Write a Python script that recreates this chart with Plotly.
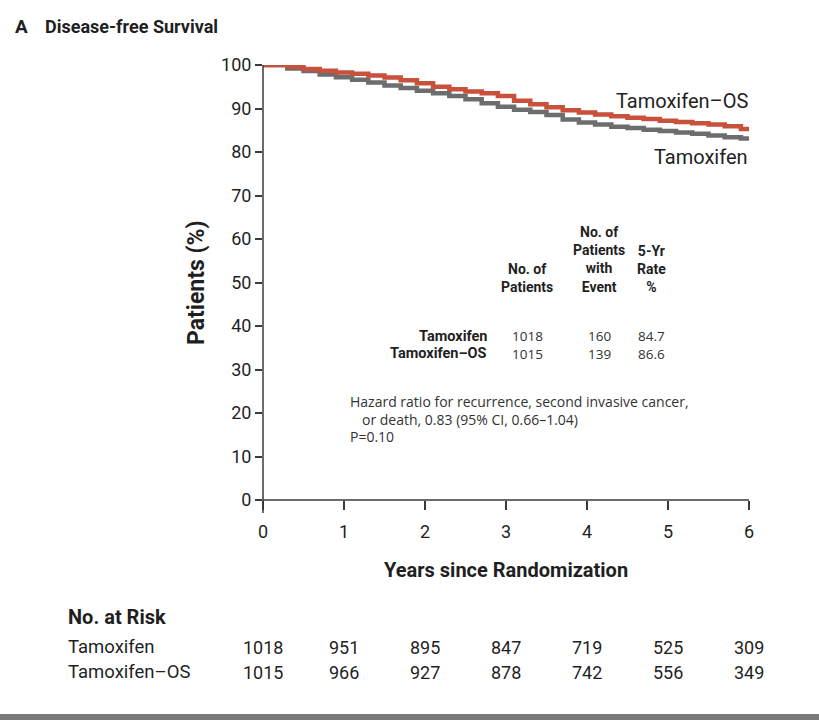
import plotly.graph_objects as go

# ---------------- data ----------------
years = [0, 0.3, 0.5, 0.7, 0.9, 1.1, 1.3, 1.5, 1.7, 1.9, 2.1, 2.3, 2.5, 2.7, 2.9,
         3.1, 3.3, 3.5, 3.7, 3.9, 4.1, 4.3, 4.5, 4.7, 4.9, 5.1, 5.3, 5.5, 5.7, 5.9, 6.0]
tam_os = [100, 99.6, 99.1, 98.7, 98.3, 98.0, 97.6, 97.1, 96.5, 95.8, 95.0, 94.4, 93.9, 93.5, 92.9,
          91.8, 91.0, 90.3, 89.6, 89.1, 88.6, 88.2, 87.9, 87.6, 87.2, 86.9, 86.6, 86.3, 85.9, 85.3, 85.0]
tam = [100, 99.2, 98.6, 97.8, 97.2, 96.6, 96.0, 95.3, 94.7, 94.1, 93.5, 92.9, 92.1, 91.2, 90.4,
       89.7, 89.2, 88.5, 87.5, 86.8, 86.3, 85.8, 85.5, 85.1, 84.8, 84.5, 84.2, 83.8, 83.4, 83.1, 83.0]

x_ticks = [0, 1, 2, 3, 4, 5, 6]
y_ticks = [0, 10, 20, 30, 40, 50, 60, 70, 80, 90, 100]

groups = ["Tamoxifen", "Tamoxifen\u2013OS"]
n_patients = [1018, 1015]
n_events = [160, 139]
rate_5yr = [84.7, 86.6]

risk_tam = [1018, 951, 895, 847, 719, 525, 309]
risk_os = [1015, 966, 927, 878, 742, 556, 349]

RED = "#c9503a"
GRAY = "#6b6d6f"
TXT = "#1f1f1f"
FONT = "Roboto, sans-serif"
FONT_T = "Open Sans, DejaVu Sans, sans-serif"

W, H = 819, 720
L, R, T, B = 263, 749, 65, 500


def px(x):
    return (x - L) / (R - L)


def py(y):
    return (B - y) / (B - T)


fig = go.Figure()
fig.add_trace(go.Scatter(x=years, y=tam, mode="lines", line=dict(color=GRAY, width=4.5, shape="hv"),
                         cliponaxis=False, showlegend=False))
fig.add_trace(go.Scatter(x=years, y=tam_os, mode="lines", line=dict(color=RED, width=4.5, shape="hv"),
                         cliponaxis=False, showlegend=False))

ann = []


def add(text, x, y, size, bold=False, xanchor="left", color=TXT, font=FONT, xref="paper"):
    if bold:
        text = "<b>" + text + "</b>"
    ann.append(dict(text=text, x=(px(x) if xref == "paper" else x), y=py(y), xref=xref, yref="paper",
                    xanchor=xanchor, yanchor="middle", showarrow=False,
                    font=dict(size=size, color=color, family=font)))


# title
add("A", 13, 27, 19, bold=True)
add("Disease-free Survival", 43, 27, 18, bold=True)

# curve labels
add("Tamoxifen\u2013OS", 750, 101, 20, xanchor="right")
add("Tamoxifen", 750, 157, 20, xanchor="right")

# table headers
add("No. of<br>Patients", 527, 278, 14, bold=True, xanchor="center")
add("No. of<br>Patients<br>with<br>Event", 599, 259, 14, bold=True, xanchor="center")
add("5-Yr<br>Rate<br>%", 651, 269, 14, bold=True, xanchor="center")

row_y = [336, 354]
for g, n, e, r, yy in zip(groups, n_patients, n_events, rate_5yr, row_y):
    add(g, 489, yy, 14.5, bold=True, xanchor="right")
    add(str(n), 527, yy, 13.5, xanchor="center", font=FONT_T, color="#333")
    add(str(e), 599, yy, 13.5, xanchor="center", font=FONT_T, color="#333")
    add(f"{r:.1f}", 651, yy, 13.5, xanchor="center", font=FONT_T, color="#333")

add("Hazard ratio for recurrence, second invasive cancer,", 348, 401, 14, font=FONT_T, color="#333")
add("or death, 0.83 (95% CI, 0.66\u20131.04)", 360, 419, 14, font=FONT_T, color="#333")
add("P=0.10", 348, 437, 14, font=FONT_T, color="#333")

# axis titles
ann.append(dict(text="<b>Patients (%)</b>", x=px(196), y=py(283), xref="paper", yref="paper",
                textangle=-90, showarrow=False, xanchor="center", yanchor="middle",
                font=dict(size=23, color=TXT, family=FONT)))
add("Years since Randomization", 506, 570, 20, bold=True, xanchor="center")

# number at risk
add("No. at Risk", 66, 617, 20, bold=True)
add(groups[0], 66, 647, 18.5)
add(groups[1], 66, 672, 18.5)
for xv, a, b in zip(x_ticks, risk_tam, risk_os):
    ann.append(dict(text=str(a), x=xv, y=py(647), xref="x", yref="paper", showarrow=False,
                    xanchor="center", yanchor="middle", font=dict(size=18, color=TXT, family=FONT)))
    ann.append(dict(text=str(b), x=xv, y=py(672), xref="x", yref="paper", showarrow=False,
                    xanchor="center", yanchor="middle", font=dict(size=18, color=TXT, family=FONT)))

shapes = [
    dict(type="line", xref="paper", yref="paper", x0=0, x1=0, y0=py(513), y1=1,
         line=dict(color="#3a3a3a", width=1.5)),
    dict(type="line", xref="paper", yref="paper", x0=0, x1=1, y0=0, y1=0,
         line=dict(color="#3a3a3a", width=1.5)),
    dict(type="rect", xref="paper", yref="paper", x0=px(0), x1=px(W), y0=py(714), y1=py(722),
         line=dict(width=0), fillcolor="#7a7a7a"),
]

fig.update_layout(
    width=W, height=H,
    margin=dict(l=L, r=W - R, t=T, b=H - B),
    paper_bgcolor="white", plot_bgcolor="white",
    annotations=ann, shapes=shapes,
    xaxis=dict(range=[0, 6], tickvals=x_ticks, ticks="outside", ticklen=9, tickwidth=1.5,
               tickcolor="#3a3a3a", showline=False, showgrid=False, zeroline=False,
               ticklabelstandoff=6,
               tickfont=dict(size=18, color=TXT, family=FONT)),
    yaxis=dict(range=[0, 100], tickvals=y_ticks, ticks="outside", ticklen=7, tickwidth=1.5,
               tickcolor="#3a3a3a", showline=False, showgrid=False, zeroline=False,
               ticklabelstandoff=0,
               tickfont=dict(size=18, color=TXT, family=FONT)),
)

fig.write_html("out.html")
